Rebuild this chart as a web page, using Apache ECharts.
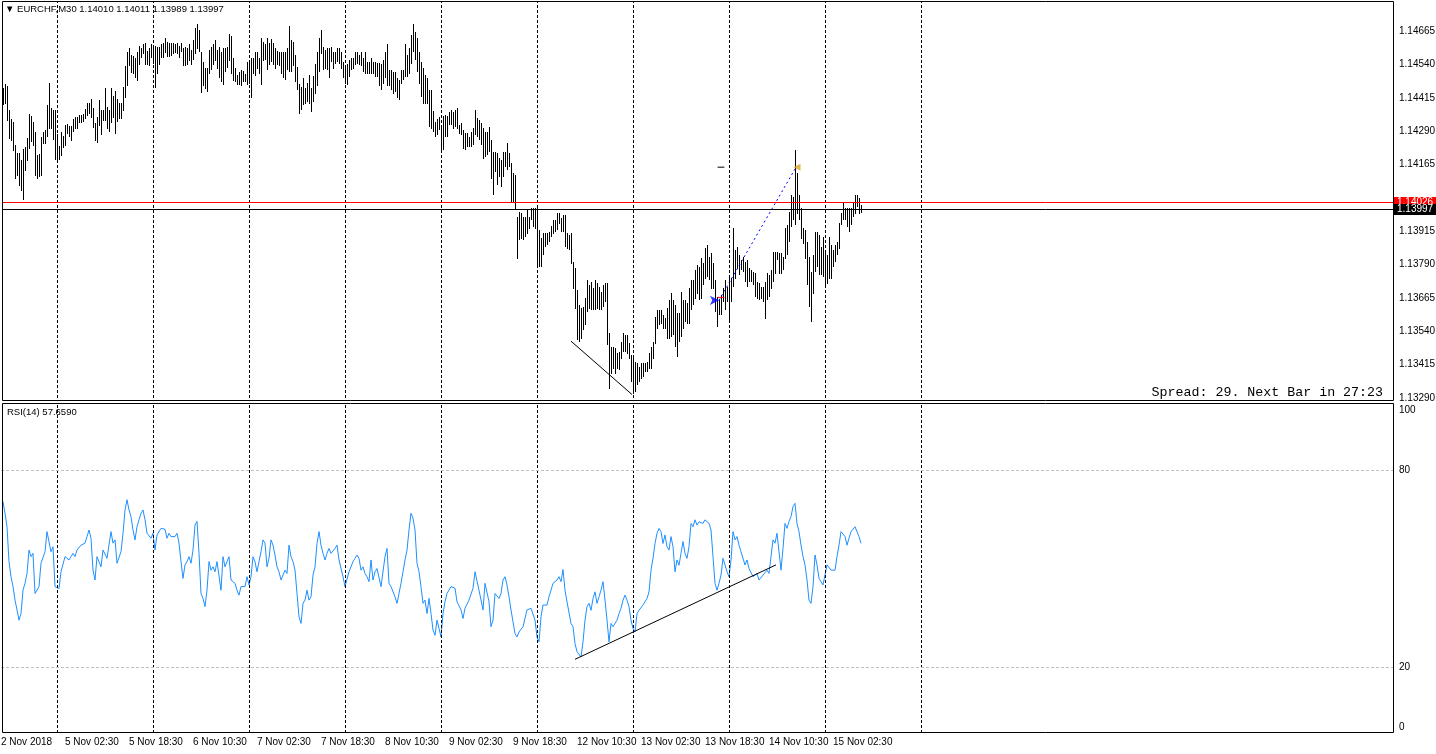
<!DOCTYPE html>
<html lang="en">
<head>
<meta charset="UTF-8">
<title>EURCHF,M30</title>
<script src="https://cdn.jsdelivr.net/npm/echarts@6/dist/echarts.min.js"></script>
<style>
  html, body { margin: 0; padding: 0; background: #fff; }
  #chart { width: 1436px; height: 754px; }
</style>
</head>
<body>
<div id="chart"></div>
<script>
// header / status values
const symbol = 'EURCHF', period = 'M30';
const lastBar = [1.14010, 1.14011, 1.13989, 1.13997]; // O H L C
const askPrice = 1.14026;
const bidPrice = 1.13997;
const rsiPeriod = 14;
const rsiLast = 57.6590;
const spreadPts = 29;
const nextBarIn = '27:23';

// M30 bars, oldest first (high / low)
const barHigh = [
  1.14451,1.14466,1.14459,1.14369,1.14335,1.14324,1.14238,1.14208,1.14208,1.14181,
  1.14223,1.14230,1.14264,1.14354,1.14346,1.14324,1.14286,1.14200,1.14204,1.14268,
  1.14286,1.14294,1.14388,1.14470,1.14376,1.14369,1.14369,1.14279,1.14234,1.14286,
  1.14271,1.14313,1.14316,1.14309,1.14309,1.14335,1.14343,1.14343,1.14350,1.14350,
  1.14354,1.14373,1.14395,1.14395,1.14410,1.14376,1.14320,1.14343,1.14403,1.14369,
  1.14369,1.14448,1.14380,1.14369,1.14448,1.14418,1.14440,1.14410,1.14395,1.14395,
  1.14455,1.14534,1.14583,1.14598,1.14575,1.14568,1.14564,1.14586,1.14609,1.14598,
  1.14616,1.14620,1.14590,1.14598,1.14613,1.14605,1.14609,1.14605,1.14605,1.14616,
  1.14620,1.14639,1.14624,1.14620,1.14620,1.14620,1.14616,1.14620,1.14609,1.14620,
  1.14598,1.14605,1.14601,1.14616,1.14594,1.14628,1.14676,1.14691,1.14669,1.14583,
  1.14549,1.14523,1.14526,1.14594,1.14605,1.14613,1.14628,1.14594,1.14605,1.14583,
  1.14601,1.14598,1.14605,1.14654,1.14643,1.14564,1.14523,1.14500,1.14508,1.14519,
  1.14515,1.14504,1.14549,1.14545,1.14564,1.14564,1.14583,1.14583,1.14564,1.14639,
  1.14624,1.14616,1.14639,1.14620,1.14635,1.14620,1.14601,1.14590,1.14586,1.14583,
  1.14583,1.14586,1.14598,1.14684,1.14631,1.14624,1.14575,1.14530,1.14463,1.14455,
  1.14489,1.14451,1.14470,1.14500,1.14451,1.14493,1.14538,1.14583,1.14639,1.14669,
  1.14605,1.14594,1.14601,1.14601,1.14605,1.14586,1.14586,1.14601,1.14601,1.14586,
  1.14549,1.14530,1.14538,1.14556,1.14564,1.14564,1.14583,1.14583,1.14575,1.14583,
  1.14564,1.14583,1.14549,1.14549,1.14564,1.14549,1.14549,1.14545,1.14545,1.14538,
  1.14556,1.14583,1.14613,1.14519,1.14519,1.14511,1.14508,1.14489,1.14481,1.14519,
  1.14519,1.14613,1.14575,1.14601,1.14650,1.14688,1.14658,1.14639,1.14586,1.14549,
  1.14526,1.14500,1.14489,1.14444,1.14444,1.14365,1.14324,1.14335,1.14343,1.14305,
  1.14346,1.14350,1.14346,1.14361,1.14369,1.14361,1.14369,1.14376,1.14313,1.14320,
  1.14294,1.14283,1.14283,1.14268,1.14286,1.14301,1.14369,1.14339,1.14331,1.14320,
  1.14301,1.14286,1.14286,1.14305,1.14256,1.14211,1.14211,1.14208,1.14189,1.14181,
  1.14211,1.14211,1.14245,1.14208,1.14170,1.14133,1.14125,1.13968,1.13986,1.13983,
  1.13968,1.13968,1.13994,1.13968,1.14001,1.14001,1.14001,1.14001,1.13919,1.13889,
  1.13908,1.13908,1.13908,1.13911,1.13934,1.13956,1.13956,1.13983,1.13983,1.13964,
  1.13975,1.13975,1.13908,1.13900,1.13908,1.13799,1.13776,1.13694,1.13638,1.13626,
  1.13630,1.13664,1.13731,1.13713,1.13724,1.13701,1.13731,1.13720,1.13705,1.13686,
  1.13713,1.13720,1.13720,1.13533,1.13480,1.13480,1.13476,1.13458,1.13461,1.13499,
  1.13533,1.13525,1.13525,1.13495,1.13450,1.13443,1.13424,1.13420,1.13405,1.13420,
  1.13420,1.13420,1.13424,1.13458,1.13480,1.13499,1.13593,1.13619,1.13619,1.13619,
  1.13600,1.13589,1.13626,1.13656,1.13683,1.13656,1.13638,1.13608,1.13608,1.13686,
  1.13656,1.13656,1.13645,1.13701,1.13731,1.13731,1.13769,1.13788,1.13780,1.13814,
  1.13795,1.13851,1.13863,1.13818,1.13833,1.13795,1.13731,1.13668,1.13656,1.13675,
  1.13701,1.13731,1.13705,1.13743,1.13739,1.13926,1.13844,1.13855,1.13825,1.13806,
  1.13818,1.13799,1.13806,1.13776,1.13769,1.13761,1.13758,1.13724,1.13720,1.13705,
  1.13705,1.13724,1.13758,1.13750,1.13769,1.13836,1.13836,1.13836,1.13833,1.13833,
  1.13818,1.13926,1.13938,1.13986,1.14050,1.14043,1.14219,1.14133,1.14050,1.14001,
  1.13926,1.13919,1.13874,1.13818,1.13761,1.13825,1.13911,1.13911,1.13900,1.13855,
  1.13893,1.13844,1.13825,1.13893,1.13863,1.13844,1.13863,1.13874,1.13945,1.13983,
  1.14024,1.14001,1.14001,1.14001,1.14001,1.14024,1.14050,1.14050,1.14039,1.14011
];
const barLow = [
  1.14395,1.14399,1.14335,1.14268,1.14260,1.14223,1.14118,1.14129,1.14091,1.14073,
  1.14039,1.14148,1.14185,1.14230,1.14256,1.14241,1.14129,1.14118,1.14125,1.14129,
  1.14249,1.14249,1.14275,1.14305,1.14305,1.14264,1.14189,1.14181,1.14189,1.14204,
  1.14234,1.14241,1.14286,1.14275,1.14260,1.14294,1.14305,1.14305,1.14328,1.14328,
  1.14331,1.14343,1.14354,1.14361,1.14346,1.14309,1.14260,1.14253,1.14316,1.14283,
  1.14335,1.14335,1.14305,1.14294,1.14328,1.14346,1.14286,1.14331,1.14343,1.14343,
  1.14373,1.14418,1.14466,1.14538,1.14515,1.14511,1.14493,1.14485,1.14545,1.14568,
  1.14586,1.14545,1.14545,1.14541,1.14571,1.14549,1.14459,1.14508,1.14545,1.14571,
  1.14571,1.14590,1.14575,1.14575,1.14579,1.14586,1.14590,1.14583,1.14571,1.14594,
  1.14541,1.14541,1.14545,1.14560,1.14545,1.14564,1.14583,1.14605,1.14594,1.14440,
  1.14463,1.14455,1.14444,1.14508,1.14526,1.14545,1.14560,1.14530,1.14496,1.14481,
  1.14470,1.14519,1.14534,1.14560,1.14508,1.14485,1.14478,1.14470,1.14470,1.14466,
  1.14481,1.14481,1.14470,1.14474,1.14418,1.14508,1.14504,1.14530,1.14508,1.14470,
  1.14560,1.14564,1.14526,1.14545,1.14556,1.14545,1.14530,1.14545,1.14538,1.14511,
  1.14493,1.14489,1.14523,1.14519,1.14519,1.14538,1.14481,1.14451,1.14361,1.14376,
  1.14395,1.14399,1.14406,1.14399,1.14369,1.14406,1.14436,1.14463,1.14519,1.14583,
  1.14526,1.14530,1.14526,1.14493,1.14556,1.14530,1.14549,1.14556,1.14549,1.14530,
  1.14493,1.14474,1.14470,1.14500,1.14526,1.14530,1.14545,1.14549,1.14545,1.14538,
  1.14519,1.14511,1.14511,1.14511,1.14508,1.14508,1.14500,1.14500,1.14463,1.14451,
  1.14474,1.14493,1.14463,1.14463,1.14451,1.14433,1.14444,1.14418,1.14414,1.14474,
  1.14489,1.14500,1.14500,1.14508,1.14549,1.14594,1.14564,1.14519,1.14474,1.14425,
  1.14399,1.14399,1.14399,1.14313,1.14305,1.14294,1.14275,1.14283,1.14301,1.14219,
  1.14226,1.14275,1.14275,1.14320,1.14320,1.14305,1.14313,1.14305,1.14286,1.14283,
  1.14230,1.14226,1.14238,1.14238,1.14238,1.14245,1.14283,1.14275,1.14264,1.14245,
  1.14193,1.14200,1.14208,1.14219,1.14118,1.14058,1.14144,1.14095,1.14125,1.14088,
  1.14125,1.14163,1.14151,1.14163,1.14031,1.14031,1.14001,1.13818,1.13889,1.13893,
  1.13889,1.13900,1.13911,1.13930,1.13964,1.13938,1.13930,1.13795,1.13788,1.13788,
  1.13833,1.13863,1.13870,1.13881,1.13900,1.13911,1.13919,1.13926,1.13949,1.13919,
  1.13919,1.13863,1.13855,1.13851,1.13799,1.13705,1.13630,1.13514,1.13506,1.13518,
  1.13551,1.13570,1.13619,1.13630,1.13626,1.13626,1.13626,1.13630,1.13626,1.13626,
  1.13638,1.13656,1.13495,1.13331,1.13386,1.13405,1.13386,1.13405,1.13401,1.13443,
  1.13469,1.13469,1.13461,1.13443,1.13356,1.13311,1.13319,1.13345,1.13356,1.13368,
  1.13375,1.13394,1.13394,1.13405,1.13405,1.13443,1.13499,1.13555,1.13570,1.13574,
  1.13555,1.13555,1.13518,1.13518,1.13525,1.13533,1.13488,1.13450,1.13506,1.13525,
  1.13555,1.13581,1.13574,1.13574,1.13626,1.13645,1.13668,1.13686,1.13664,1.13668,
  1.13720,1.13743,1.13750,1.13739,1.13705,1.13705,1.13619,1.13563,1.13608,1.13608,
  1.13656,1.13626,1.13656,1.13589,1.13656,1.13713,1.13743,1.13780,1.13758,1.13776,
  1.13769,1.13731,1.13713,1.13731,1.13731,1.13720,1.13675,1.13668,1.13664,1.13668,
  1.13656,1.13593,1.13664,1.13675,1.13705,1.13731,1.13761,1.13814,1.13761,1.13761,
  1.13776,1.13818,1.13833,1.13881,1.13938,1.13964,1.13945,1.13986,1.13964,1.13893,
  1.13874,1.13818,1.13720,1.13638,1.13581,1.13686,1.13769,1.13788,1.13758,1.13758,
  1.13750,1.13713,1.13724,1.13743,1.13743,1.13788,1.13806,1.13833,1.13855,1.13945,
  1.13964,1.13964,1.13938,1.13919,1.13945,1.13975,1.13986,1.14013,1.13986,1.13989
];

// RSI(14), one value per bar
const rsi = [
  70.3,66.8,62.7,52.1,47.5,44.5,40.4,37.4,34.3,36.3,
  43.4,45.5,48.5,55.6,53.6,54.6,42.4,41.9,44.5,51.6,
  52.1,55.1,61.2,61.2,55.1,56.6,44.5,43.9,43.9,49.0,
  48.5,53.6,53.6,52.6,53.6,54.6,53.6,55.6,56.1,57.1,
  57.7,57.7,59.7,61.7,59.2,49.5,46.5,53.6,53.6,50.5,
  55.6,55.1,53.1,53.6,61.2,57.7,58.7,51.6,51.6,55.1,
  60.7,67.8,70.9,67.8,65.8,61.7,58.7,62.7,64.8,66.8,
  67.8,64.8,60.7,60.2,59.2,60.7,55.6,60.2,60.7,62.2,
  61.7,61.9,59.2,60.7,59.7,59.7,59.7,60.7,57.7,52.1,
  47.0,51.1,52.1,53.6,51.6,55.6,63.2,64.3,54.6,42.4,
  40.9,38.4,43.4,52.1,49.5,50.5,49.0,52.1,51.6,43.4,
  53.6,50.5,52.1,53.6,46.5,46.0,45.5,43.4,41.9,44.5,
  44.5,44.5,47.5,45.0,47.5,53.6,52.1,49.0,52.1,55.1,
  58.7,57.7,50.5,53.1,58.7,57.1,54.1,50.5,49.0,46.5,
  46.0,49.5,48.5,57.1,53.6,52.1,49.5,42.4,35.3,33.3,
  39.4,40.4,43.4,40.4,41.4,48.0,50.5,57.6,61.2,57.1,
  54.6,52.6,54.6,56.1,54.6,54.1,56.1,57.1,52.6,52.6,
  47.5,44.5,45.0,49.0,49.5,52.1,53.1,54.1,53.1,49.5,
  50.5,48.5,47.5,46.0,52.6,46.5,49.0,50.0,49.5,44.5,
  45.0,53.6,56.1,45.5,44.5,45.0,41.4,39.4,42.4,45.5,
  49.0,52.6,55.6,61.7,66.8,65.3,61.7,51.6,49.0,44.5,
  39.4,40.4,36.3,40.9,36.3,31.3,29.7,34.3,31.8,29.2,
  36.3,39.9,42.4,42.9,44.5,45.0,44.0,39.9,39.4,37.4,
  34.8,37.9,38.4,40.4,39.9,44.0,49.0,48.5,43.4,42.9,
  37.4,45.5,46.0,39.9,32.3,34.3,42.4,41.9,40.9,42.4,
  46.5,47.5,45.0,41.4,37.4,36.8,30.2,29.2,30.7,30.7,
  32.3,31.8,37.4,37.6,37.9,38.4,34.3,29.2,27.7,35.3,
  38.9,39.4,38.9,41.4,43.4,45.5,46.0,46.5,47.5,46.0,
  49.7,43.4,39.9,39.4,33.3,32.3,27.2,24.7,24.1,23.1,
  27.7,34.3,38.4,39.4,37.3,40.9,42.9,39.4,41.4,43.4,
  46.0,40.4,34.3,27.7,33.3,32.3,31.8,34.3,36.3,37.9,
  40.4,41.9,40.4,38.4,34.3,31.8,30.7,36.3,37.3,37.3,
  38.9,39.9,40.9,42.9,49.5,53.1,57.6,60.7,62.2,61.2,
  57.6,60.2,56.6,55.6,59.7,56.6,49.0,52.6,51.0,54.6,
  58.2,54.6,53.1,56.6,63.7,62.7,64.8,63.2,64.2,64.8,
  63.7,64.8,65.3,63.7,61.7,53.6,45.5,43.4,45.5,48.0,
  53.1,51.1,49.0,47.5,52.6,61.2,58.7,59.7,57.1,55.1,
  55.6,51.1,52.6,50.0,50.5,47.5,47.0,48.5,46.5,46.0,
  48.0,47.5,49.5,48.5,53.6,58.7,57.7,60.7,60.7,49.5,
  56.1,63.7,62.2,64.3,65.8,68.8,69.8,63.7,61.2,57.1,
  53.6,51.1,46.5,40.4,39.4,44.5,54.1,51.1,47.0,46.0,
  45.0,45.0,51.1,51.6,49.5,49.0,49.5,53.6,57.1,61.2,
  61.7,59.7,57.1,59.2,61.2,61.2,62.7,62.2,59.7,rsiLast
];

// time scale labels, one every 32 bars starting one slot before the first bar
const timeLabels = ['2 Nov 2018', '5 Nov 02:30', '5 Nov 18:30', '6 Nov 10:30', '7 Nov 02:30',
  '7 Nov 18:30', '8 Nov 10:30', '9 Nov 02:30', '9 Nov 18:30', '12 Nov 10:30',
  '13 Nov 02:30', '13 Nov 18:30', '14 Nov 10:30', '15 Nov 02:30'];
const daySeparators = [27, 75, 123, 171, 219, 267, 315, 363, 411, 459];
const rsiLevels = [20, 80];

// drawn objects
const trendMain = [[284, 1.13503], [314.5, 1.13303]];
const trendRsi = [[286, 22.4], [386.5, 51.1]];
const tradeLine = [[358, 1.13656], [396, 1.14148]];
const tradeOpen = [358, 1.13656];
const tradeClose = [397, 1.14155];
const tpDash = [[357.3, 1.14155], [360.7, 1.14155]];
const slDash = [[357.3, 1.13667], [360.7, 1.13667]];

const SLOTS = 695;         // bar slots visible on screen
const priceMin = 1.13290, priceMax = 1.14774, priceStep = 0.00125;

const chart = echarts.init(document.getElementById('chart'));
const font = 'Liberation Sans, Arial, sans-serif';

const vGrid = daySeparators.map(i => ({
  xAxis: i + 0.25,    // +0.25 keeps the 1px line on a whole pixel
  lineStyle: { color: '#000', type: [3, 2], width: 1 },
  label: { show: false }
}));

// ask / bid lines: full width, snapped to a pixel row, with a price box on the scale
const priceLines = [
  { price: askPrice, color: '#ff0000' },
  { price: bidPrice, color: '#000000' }
];

// scale labels that would sit under the ask/bid boxes are left out, like the terminal does
function priceLabel(v) {
  const hidden = priceLines.some(p => Math.abs(p.price - v) < 0.0003);
  return hidden ? '' : v.toFixed(5);
}

const option = {
  animation: false,
  backgroundColor: '#fff',
  grid: [
    { left: 1, right: 43, top: 2, height: 396, outerBoundsMode: 'none', containLabel: false },
    { left: 1, right: 43, top: 404, height: 329, outerBoundsMode: 'none', containLabel: false }
  ],
  xAxis: [
    { type: 'value', gridIndex: 0, min: -1, max: SLOTS, show: false },
    {
      type: 'value', gridIndex: 1, min: -1, max: SLOTS, interval: 32,
      axisLine: { show: false }, axisTick: { show: false }, splitLine: { show: false },
      axisLabel: {
        margin: 4, align: 'left', color: '#000', fontSize: 10, fontFamily: font,
        showMaxLabel: false,
        formatter: v => timeLabels[Math.round((v + 1) / 32)] || ''
      }
    }
  ],
  yAxis: [
    {
      type: 'value', gridIndex: 0, position: 'right', min: priceMin, max: priceMax, interval: priceStep,
      axisLine: { show: false }, axisTick: { show: false }, splitLine: { show: false },
      axisLabel: { margin: 6, color: '#000', fontSize: 10, fontFamily: font, showMaxLabel: false, formatter: priceLabel }
    },
    {
      type: 'value', gridIndex: 1, position: 'right', min: 0, max: 100, interval: 20,
      axisLine: { show: false }, axisTick: { show: false }, splitLine: { show: false },
      axisLabel: {
        margin: 6, color: '#000', fontSize: 10, fontFamily: font,
        formatter: v => v === 100 ? '{t|100}' : v === 0 ? '{b|0}' : (v === 20 || v === 80 ? String(v) : ''),
        rich: {
          t: { padding: [12, 0, 0, 0], fontSize: 10, fontFamily: font, color: '#000' },
          b: { padding: [0, 0, 12, 0], fontSize: 10, fontFamily: font, color: '#000' }
        }
      }
    }
  ],
  graphic: [
    { type: 'rect', shape: { x: 2.5, y: 1.5, width: 1391, height: 399 }, style: { fill: null, stroke: '#000', lineWidth: 1 }, silent: true, z: 10 },
    { type: 'rect', shape: { x: 2.5, y: 403.5, width: 1391, height: 329 }, style: { fill: null, stroke: '#000', lineWidth: 1 }, silent: true, z: 10 },
    { type: 'text', left: 5, top: 4, style: { text: '\u25BC ' + symbol + ',' + period + ' ' + lastBar.map(v => v.toFixed(5)).join(' '), font: '9.5px ' + font, fill: '#000' }, z: 10 },
    { type: 'text', left: 7, top: 407, style: { text: 'RSI(' + rsiPeriod + ') ' + rsiLast.toFixed(4), font: '9.5px ' + font, fill: '#000' }, z: 10 },
    { type: 'text', right: 53, top: 386, style: { text: 'Spread: ' + spreadPts + '. Next Bar in ' + nextBarIn, font: '13.3px Liberation Mono, Courier New, monospace', fill: '#000' }, z: 10 }
  ],
  series: [
    {
      name: 'bars', type: 'custom', xAxisIndex: 0, yAxisIndex: 0,
      data: barHigh.map((h, i) => [i, h, barLow[i]]),
      encode: { x: 0, y: [1, 2] },
      renderItem: (params, api) => {
        const top = api.coord([api.value(0), api.value(1)]);
        const bot = api.coord([api.value(0), api.value(2)]);
        const x = Math.floor(top[0]) + 0.5;
        return {
          type: 'line',
          shape: { x1: x, y1: Math.floor(top[1]), x2: x, y2: Math.ceil(bot[1]) + 1 },
          style: { stroke: '#000', lineWidth: 1 }
        };
      },
      z: 3
    },
    {
      name: 'priceLines', type: 'custom', xAxisIndex: 0, yAxisIndex: 0, clip: false, silent: true,
      data: priceLines.map(p => [p.price]),
      encode: { y: 0 },
      renderItem: (params, api) => {
        const cs = params.coordSys;
        const p = priceLines[params.dataIndex];
        const y = Math.round(api.coord([0, api.value(0)])[1]) + 0.5;
        return {
          type: 'group',
          children: [
            { type: 'line', shape: { x1: cs.x + 2, y1: y, x2: cs.x + cs.width, y2: y }, style: { stroke: p.color, lineWidth: 1 } },
            {
              type: 'text', x: cs.x + cs.width + 1, y: y,
              style: {
                text: p.price.toFixed(5), fill: '#fff', backgroundColor: p.color,
                padding: [1, 3, 0, 3], font: '10px ' + font, verticalAlign: 'middle', align: 'left'
              }
            }
          ]
        };
      },
      z: 6
    },
    {
      name: 'trend', type: 'line', xAxisIndex: 0, yAxisIndex: 0, data: trendMain,
      symbol: 'none', lineStyle: { color: '#000', width: 1 }, z: 4,
      markLine: { silent: true, symbol: 'none', animation: false, data: vGrid }
    },
    {
      name: 'trade', type: 'line', xAxisIndex: 0, yAxisIndex: 0, data: tradeLine,
      symbol: 'none', lineStyle: { color: '#0000ff', type: [2, 3], width: 1 }, z: 4
    },
    {
      name: 'tp', type: 'line', xAxisIndex: 0, yAxisIndex: 0, data: tpDash,
      symbol: 'none', lineStyle: { color: '#000', width: 1 }, z: 4
    },
    {
      name: 'sl', type: 'line', xAxisIndex: 0, yAxisIndex: 0, data: slDash,
      symbol: 'none', lineStyle: { color: '#ff0000', width: 1 }, z: 4
    },
    {
      name: 'open', type: 'scatter', xAxisIndex: 0, yAxisIndex: 0, data: [tradeOpen],
      symbol: 'arrow', symbolSize: [7, 9], symbolRotate: -90, itemStyle: { color: '#0000ff' }, z: 5
    },
    {
      name: 'close', type: 'scatter', xAxisIndex: 0, yAxisIndex: 0, data: [tradeClose],
      symbol: 'triangle', symbolSize: [7, 7], symbolRotate: 90, itemStyle: { color: '#daa520' }, z: 5
    },
    {
      name: 'rsi', type: 'line', xAxisIndex: 1, yAxisIndex: 1,
      data: rsi.map((v, i) => [i, v]),
      symbol: 'none', lineStyle: { color: '#1e90ff', width: 1 }, z: 3,
      markLine: {
        silent: true, symbol: 'none', animation: false,
        data: [
          ...vGrid,
          ...rsiLevels.map(v => ({ yAxis: v, lineStyle: { color: '#c0c0c0', type: [3, 2], width: 1 }, label: { show: false } }))
        ]
      }
    },
    {
      name: 'rsiTrend', type: 'line', xAxisIndex: 1, yAxisIndex: 1, data: trendRsi,
      symbol: 'none', lineStyle: { color: '#000', width: 1 }, z: 4
    }
  ]
};

chart.setOption(option);
</script>
</body>
</html>
